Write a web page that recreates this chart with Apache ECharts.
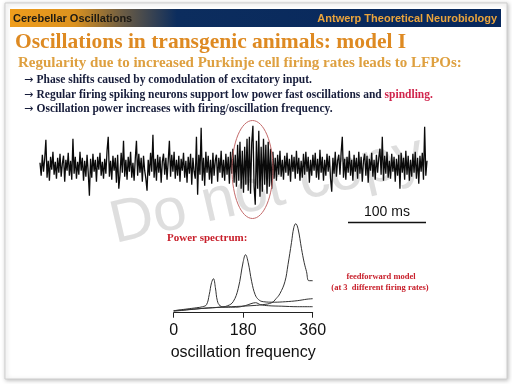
<!DOCTYPE html>
<html>
<head>
<meta charset="utf-8">
<script src="https://cdn.jsdelivr.net/npm/echarts@6/dist/echarts.min.js"></script>
<style>html,body{margin:0;padding:0;background:#fff;}#c{width:512px;height:384px;}</style>
</head>
<body>
<div id="c"></div>
<script>
// LFP trace (offset values, arbitrary units)
var traceValues = [
 4,-9,12,-5,8,27,-11,6,-14,10,-3,15,-8,5,-12,
 9,-6,13,-10,3,11,-15,7,-4,14,-9,6,-13,28,-7,
 10,-12,5,-8,15,-4,9,-14,6,-10,12,-6,-29,8,-11,
 13,-5,7,-15,10,-3,14,-9,5,-12,8,-7,16,30,-10,
 6,-13,11,-4,9,-16,12,-22,-8,14,-6,26,-10,7,-13,
 10,-5,15,-11,4,-14,8,26,-9,13,-6,9,-15,11,-4,
 -12,-24,7,-9,14,-5,32,-11,8,-14,12,-6,10,-16,5,
 13,-8,9,-13,6,26,-10,12,-5,15,-12,7,-9,11,-15,
 8,-4,14,-11,6,-16,10,-7,13,-18,9,-5,-12,30,-28,
 12,-8,39,-14,9,-19,15,-6,11,-13,7,-17,14,-9,6,
 12,-15,9,-6,16,-11,7,-14,13,-8,10,-17,15,-7,18,
 -16,12,-20,22,-14,25,-22,16,-26,20,-18,28,-24,30,-27,
 24,41,-20,-38,26,-22,36,-30,20,-25,28,-18,22,-27,25,
 -20,18,-22,15,-12,9,-14,12,-8,16,-10,7,-13,11,-6,
 14,-9,8,-15,12,-5,10,-12,16,-7,9,-14,6,-11,13,
 -8,15,-5,10,-16,7,-9,12,-4,14,-11,8,-13,17,-6,
 10,-14,7,-9,13,-5,11,-12,-25,9,-7,15,-10,6,12,
 -8,14,30,-11,8,-13,10,-6,16,-9,7,-14,12,-5,9,
 -12,15,-7,10,-15,6,13,-9,11,-16,8,-4,14,-10,7,
 -13,12,-6,9,18,-8,30,-14,11,-7,15,-11,6,-12,13,
 -5,10,-15,8,-9,12,-22,14,-6,9,-13,16,-8,11,-14,
 7,-10,13,-6,15,-12,9,-17,11,-5,14,-13,40,-9,6
];
// Power spectra, three firing rates
var freqA  = [0,20,40,60,75,85,92,98,103,108,113,120,135,160,185,200,212,225,245,280,320,360];
var powerA = [2,3,4,5,6,8,18,30,34,25,12,7,5.5,5.5,7,9,10,8,7,6.5,6,6];
var freqB  = [0,40,80,120,140,154,167,180,186,193,202,211,220,232,260,290,320,345,360];
var powerB = [1.5,3,4.5,5.5,7,11,24,51,58,50,31,18,13,11,10.5,11,12,13.5,14];
var freqC  = [0,50,100,150,200,230,254,265,275,288,296,305,311,316,322,331,338,344,350,360];
var powerC = [2,3.5,5,6,7,8,10,14,19,31,48,70,85,89,84,64,50,41,32,32];
var freqTicks = [0,180,360];

function pairs(xs, ys){ return xs.map(function(x,i){ return [x, ys[i]]; }); }

var chart = echarts.init(document.getElementById('c'), null, {renderer:'canvas'});
var serif = '"Liberation Serif", "DejaVu Serif", serif';
var sans = '"Liberation Sans", Arial, sans-serif';
var arrowFont = '11px "DejaVu Sans", sans-serif';

function bullet(y, rest) {
  return {type: 'text', z: 1, style: {
    text: '{r|\u2192} ' + rest, x: 24, y: y, textVerticalAlign: 'middle',
    rich: {
      r: {font: arrowFont, fill: '#161c3a'},
      a: {font: 'bold 11.5px ' + serif, fill: '#161c3a'},
      b: {font: 'bold 11.5px ' + serif, fill: '#d0244c'}
    }}};
}

var option = {
  animation: false,
  backgroundColor: '#ffffff',
  grid: [
    {left: 40, top: 121.7, width: 387, height: 90},
    {left: 173.7, top: 212.7, width: 139, height: 100}
  ],
  xAxis: [
    {gridIndex: 0, type: 'value', min: 0, max: traceValues.length - 1, show: false},
    {gridIndex: 1, type: 'value', min: 0, max: 360, interval: 180,
     axisLine: {show: true, lineStyle: {color: '#222', width: 1}},
     axisTick: {show: true, length: 5, lineStyle: {color: '#222'}},
     splitLine: {show: false},
     axisLabel: {color: '#111', fontSize: 16, fontFamily: sans, margin: 10,
       customValues: freqTicks},
     name: 'oscillation frequency', nameLocation: 'middle', nameGap: 32,
     nameTextStyle: {color: '#111', fontSize: 16, fontFamily: sans}
    }
  ],
  yAxis: [
    {gridIndex: 0, type: 'value', min: -45, max: 45, show: false},
    {gridIndex: 1, type: 'value', min: 0, max: 100, show: false}
  ],
  series: [
    {type: 'line', xAxisIndex: 0, yAxisIndex: 0, showSymbol: false, symbol: 'none',
     data: traceValues.map(function(v,i){ return [i, v]; }),
     lineStyle: {color: '#0a0a0a', width: 1.3}, z: 5},
    {type: 'line', xAxisIndex: 1, yAxisIndex: 1, symbol: 'none', smooth: 0.4,
     data: pairs(freqA, powerA), lineStyle: {color: '#333', width: 1}, z: 5},
    {type: 'line', xAxisIndex: 1, yAxisIndex: 1, symbol: 'none', smooth: 0.4,
     data: pairs(freqB, powerB), lineStyle: {color: '#333', width: 1}, z: 5},
    {type: 'line', xAxisIndex: 1, yAxisIndex: 1, symbol: 'none', smooth: 0.4,
     data: pairs(freqC, powerC), lineStyle: {color: '#333', width: 1}, z: 5}
  ],
  graphic: [
    // slide frame
    {type: 'rect', z: -10, shape: {x: 5, y: 3, width: 502, height: 376},
     style: {fill: '#fff', stroke: '#cfcfcf', lineWidth: 1, shadowBlur: 4, shadowColor: 'rgba(0,0,0,0.25)', shadowOffsetX: 1, shadowOffsetY: 1}},
    // header bar
    {type: 'rect', z: -5, shape: {x: 10, y: 9, width: 491, height: 18},
     style: {fill: new echarts.graphic.LinearGradient(0,0,1,0,[
       {offset: 0, color: '#ef9d1c'},
       {offset: 0.13, color: '#dc921f'},
       {offset: 0.23, color: '#6b5c44'},
       {offset: 0.34, color: '#0c2d5e'},
       {offset: 1, color: '#06275c'}])}},
    {type: 'text', z: 1, style: {text: 'Cerebellar Oscillations', x: 13, y: 18.5, font: 'bold 11px ' + sans, fill: '#1d1a14', textVerticalAlign: 'middle'}},
    {type: 'text', z: 1, style: {text: 'Antwerp Theoretical Neurobiology', x: 497, y: 18.5, font: 'bold 11px ' + sans, fill: '#eaa43c', textAlign: 'right', textVerticalAlign: 'middle'}},
    // title texts
    {type: 'text', z: 1, style: {text: 'Oscillations in transgenic animals: model I', x: 15, y: 42, font: 'bold 21.5px ' + serif, fill: '#de8a22', textVerticalAlign: 'middle'}},
    {type: 'text', z: 1, style: {text: 'Regularity due to increased Purkinje cell firing rates leads to LFPOs:', x: 18, y: 63, font: 'bold 15px ' + serif, fill: '#dea040', textVerticalAlign: 'middle'}},
    bullet(80, '{a|Phase shifts caused by comodulation of excitatory input.}'),
    bullet(95, '{a|Regular firing spiking neurons support low power fast oscillations and }{b|spindling.}'),
    bullet(109, '{a|Oscillation power increases with firing/oscillation frequency.}'),
    // watermark
    {type: 'text', z: 0, x: 118, y: 256, rotation: 13 * Math.PI / 180,
     style: {text: 'Do not copy', x: 0, y: 0, font: '60px ' + sans, fill: 'rgba(200,200,200,0.6)', textVerticalAlign: 'bottom'}},
    // spindle ellipse
    {type: 'ellipse', z: 10, shape: {cx: 252.5, cy: 169.5, rx: 20.5, ry: 49},
     style: {fill: 'none', stroke: '#c46a6a', lineWidth: 1}},
    // scale bar
    {type: 'line', z: 1, shape: {x1: 348, y1: 222.5, x2: 426, y2: 222.5}, style: {stroke: '#111', lineWidth: 1.5}},
    {type: 'text', z: 1, style: {text: '100 ms', x: 387, y: 212, font: '14px ' + sans, fill: '#111', textAlign: 'center', textVerticalAlign: 'middle'}},
    // spectrum labels
    {type: 'text', z: 1, style: {text: 'Power spectrum:', x: 167, y: 238, font: 'bold 11px ' + serif, fill: '#c8202c', textVerticalAlign: 'middle'}},
    {type: 'text', z: 1, style: {text: 'feedforward model', x: 381, y: 277, font: 'bold 8.5px ' + serif, fill: '#c8202c', textAlign: 'center', textVerticalAlign: 'middle'}},
    {type: 'text', z: 1, style: {text: '(at 3  different firing rates)', x: 380, y: 288, font: 'bold 8.5px ' + serif, fill: '#c8202c', textAlign: 'center', textVerticalAlign: 'middle'}}
  ]
};
chart.setOption(option);
</script>
</body>
</html>
